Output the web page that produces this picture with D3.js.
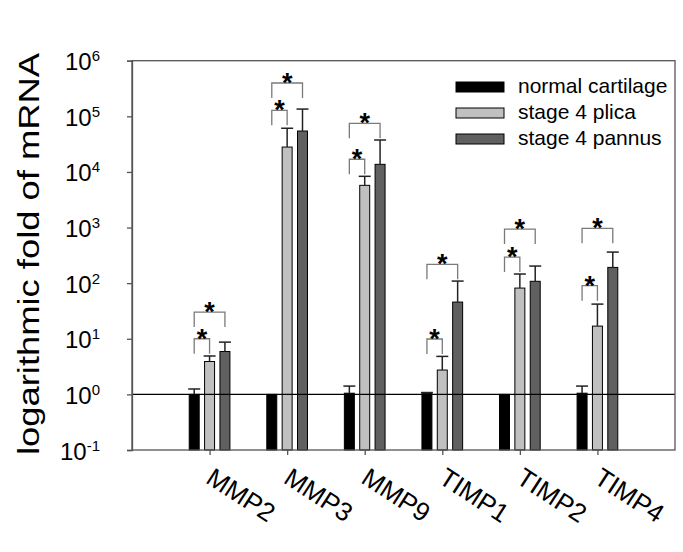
<!DOCTYPE html>
<html><head><meta charset="utf-8">
<script src="https://cdn.jsdelivr.net/npm/d3@7"></script>
<style>body{margin:0;background:#fff}svg{display:block}text{font-family:"Liberation Sans",Arial,sans-serif}</style>
</head><body><svg id="c" width="683" height="552"></svg>
<script>
const categories = ["MMP2","MMP3","MMP9","TIMP1","TIMP2","TIMP4"];
const seriesNames = ["normal cartilage","stage 4 plica","stage 4 pannus"];
const normalVals = [1.0, 1.0, 1.05, 1.03, 1.0, 1.05];
const normalErr  = [1.25, null, 1.41, 1.08, null, 1.41];
const plicaVals  = [3.9, 28000, 5740, 2.74, 81.6, 16.9];
const plicaErr   = [4.9, 61000, 8340, 4.82, 146, 42];
const pannusVals = [5.9, 54400, 13700, 45.7, 108, 192];
const pannusErr  = [8.7, 135000, 37500, 109, 203, 362];
// significance brackets: level of bracket top (data units)
const bracketPlica  = [10, 128000, 16900, 9.9, 295, 90];
const bracketPannus = [30.2, 397000, 74800, 218, 940, 968];
const yTickExp = [-1,0,1,2,3,4,5,6];
const colors = ["#000000","#c0c0c0","#606060"];

const svg = d3.select("#c");
const L=132, R=675, T=60.7, B=450;
const y = d3.scaleLog().domain([0.1,1e6]).range([B,T]);
const x = d3.scaleLinear().domain([0,7]).range([L,R]);
const xs = d3.scaleBand().domain(seriesNames).range([-20.35,20.35]).paddingInner(0.35);
const bw = xs.bandwidth();
const sx = (i,s)=> x(i+1)+xs(s)+bw/2;

const vals=[normalVals,plicaVals,pannusVals];
const errs=[normalErr,plicaErr,pannusErr];

// bars
seriesNames.forEach((s,si)=>{
  svg.append("g").selectAll("rect").data(categories).join("rect")
   .attr("x",(d,i)=>x(i+1)+xs(s)).attr("width",bw)
   .attr("y",(d,i)=>y(vals[si][i])).attr("height",(d,i)=>B-y(vals[si][i]))
   .attr("fill",colors[si]).attr("stroke","#000").attr("stroke-width",1);
  const eg = svg.append("g").attr("stroke","#222").attr("stroke-width",1.5);
  categories.forEach((c,i)=>{
    const e=errs[si][i]; if(e==null) return;
    const cx=sx(i,s);
    eg.append("line").attr("x1",cx).attr("x2",cx).attr("y1",y(vals[si][i])).attr("y2",y(e));
    eg.append("line").attr("x1",cx-6).attr("x2",cx+6).attr("y1",y(e)).attr("y2",y(e));
  });
});

// reference line at 1
svg.append("line").attr("x1",L).attr("x2",R).attr("y1",y(1)).attr("y2",y(1)).attr("stroke","#000").attr("stroke-width",1.2);

// frame
svg.append("rect").attr("x",L).attr("y",T).attr("width",R-L).attr("height",B-T)
  .attr("fill","none").attr("stroke","#555").attr("stroke-width",1.3);

// y axis
const yAxis = d3.axisLeft(y).tickValues(yTickExp.map(e=>Math.pow(10,e))).tickSize(5).tickFormat("");
const ya = svg.append("g").attr("transform",`translate(${L},0)`).call(yAxis);
ya.select(".domain").attr("stroke","#555").attr("stroke-width",1.3);
ya.selectAll(".tick line").attr("stroke","#555").attr("stroke-width",1.3);
yTickExp.forEach(e=>{
  const t=svg.append("text").attr("x",100).attr("y",y(Math.pow(10,e))+9.5)
    .attr("text-anchor","end").attr("font-size",24).attr("fill","#000");
  t.append("tspan").text("10");
  t.append("tspan").attr("font-size",15).attr("dy",-9).text(String(e));
});

// x axis ticks
const xAxis = d3.axisBottom(x).tickValues(categories.map((c,i)=>i+1)).tickSize(5).tickFormat("");
const xa = svg.append("g").attr("transform",`translate(0,${B})`).call(xAxis);
xa.select(".domain").remove();
xa.selectAll(".tick line").attr("stroke","#555").attr("stroke-width",1.3);
categories.forEach((c,i)=>{
  svg.append("text").attr("transform",`translate(${x(i+1)-5},${482}) rotate(33)`)
    .attr("font-size",26).attr("fill","#000").text(c);
});

// y title
svg.append("text").attr("transform","translate(39,254) rotate(-90)")
  .attr("text-anchor","middle").attr("font-size",30)
  .attr("textLength",402).attr("lengthAdjust","spacingAndGlyphs").text("logarithmic fold of mRNA");

// brackets
const bg = svg.append("g");
function bracket(i,s2,level){
  const x1=sx(i,seriesNames[0]), x2=sx(i,s2), yy=y(level);
  bg.append("path").attr("d",`M${x1},${yy+15}V${yy}H${x2}V${yy+15}`)
    .attr("fill","none").attr("stroke","#7a7a7a").attr("stroke-width",1.3);
  bg.append("text").attr("x",(x1+x2)/2).attr("y",yy+9).attr("text-anchor","middle")
    .attr("font-size",27).attr("font-weight","bold").text("*");
}
categories.forEach((c,i)=>{
  bracket(i,seriesNames[1],bracketPlica[i]);
  bracket(i,seriesNames[2],bracketPannus[i]);
});

// legend
const lg = svg.append("g");
seriesNames.forEach((s,si)=>{
  const by = 93 + si*26;
  lg.append("rect").attr("x",456).attr("y",by-11).attr("width",48).attr("height",10)
    .attr("fill",colors[si]).attr("stroke","#000").attr("stroke-width",1);
  lg.append("text").attr("x",518).attr("y",by).attr("font-size",21).text(s);
});
</script></body></html>
